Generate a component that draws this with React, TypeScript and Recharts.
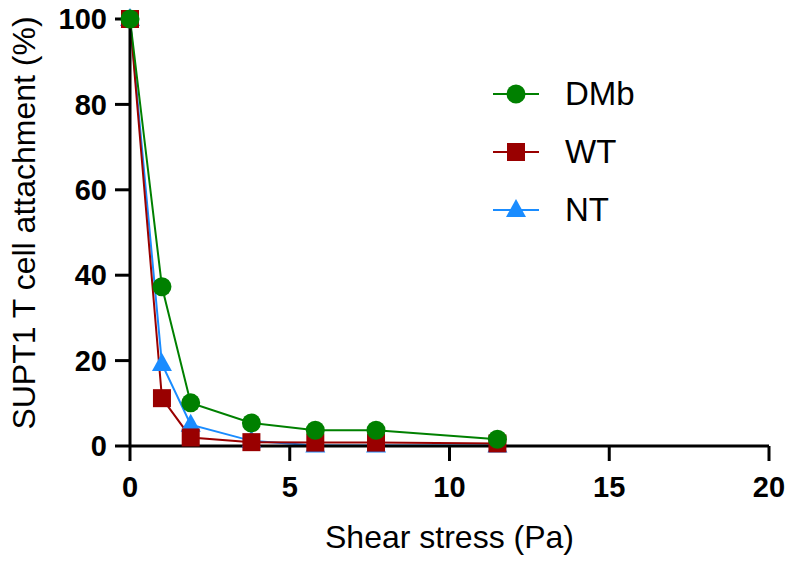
import { LineChart, Line, XAxis, YAxis, Legend } from 'recharts';

const shear = [0, 1, 1.9, 3.8, 5.8, 7.7, 11.5];
const dmb = [100, 37.3, 10.1, 5.4, 3.7, 3.7, 1.6];
const wt = [100, 11.2, 2.0, 0.9, 0.8, 0.8, 0.6];
const nt = [100, 19.2, 5.0, 1.2, 0.1, 0.1, 0.1];

const xTicks = [0, 5, 10, 15, 20];
const yTicks = [0, 20, 40, 60, 80, 100];

const series = [
  { key: 'nt', name: 'NT', color: '#1a8cff', shape: 'triangle' },
  { key: 'wt', name: 'WT', color: '#990000', shape: 'square' },
  { key: 'dmb', name: 'DMb', color: '#008000', shape: 'circle' },
];
const legendOrder = ['dmb', 'wt', 'nt'];

const data = shear.map((x, i) => ({ x, dmb: dmb[i], wt: wt[i], nt: nt[i] }));

const FONT = '"Liberation Sans", Arial, sans-serif';

function Marker({ cx, cy, shape, color }: { cx: number; cy: number; shape: string; color: string }) {
  if (cx == null || cy == null) return null;
  if (shape === 'circle') return <circle cx={cx} cy={cy} r={9.5} fill={color} />;
  if (shape === 'square') return <rect x={cx - 9} y={cy - 9} width={18} height={18} fill={color} />;
  return <polygon points={`${cx},${cy - 11} ${cx - 10},${cy + 7} ${cx + 10},${cy + 7}`} fill={color} />;
}

function LegendBox() {
  return (
    <div style={{ fontFamily: FONT }}>
      {legendOrder.map((k) => {
        const s = series.find((d) => d.key === k)!;
        return (
          <div key={k} style={{ display: 'flex', alignItems: 'center', height: 58 }}>
            <svg width={50} height={30}>
              <line x1={0} y1={15} x2={46} y2={15} stroke={s.color} strokeWidth={2} />
              <Marker cx={23} cy={15} shape={s.shape} color={s.color} />
            </svg>
            <span style={{ marginLeft: 22, fontSize: 33, color: '#000' }}>{s.name}</span>
          </div>
        );
      })}
    </div>
  );
}

function YTitle() {
  const cy = 223;
  const cx = 24;
  return (
    <text
      x={cx}
      y={cy}
      transform={`rotate(-90, ${cx}, ${cy})`}
      textAnchor="middle"
      dominantBaseline="central"
      fontSize={32}
      fontFamily={FONT}
      fill="#000"
    >
      SUPT1 T cell attachment (%)
    </text>
  );
}

export default function App() {
  return (
    <div style={{ position: 'absolute', left: 0, top: 0, background: '#fff' }}>
      <LineChart width={790} height={561} data={data} margin={{ top: 19, right: 21, left: 0, bottom: 0 }}>
        <XAxis
          dataKey="x"
          type="number"
          domain={[0, 20]}
          ticks={xTicks}
          height={115}
          axisLine={{ stroke: '#000', strokeWidth: 3 }}
          tickLine={{ stroke: '#000', strokeWidth: 3 }}
          tickSize={15}
          tickMargin={15}
          tick={{ fill: '#000', fontSize: 29, fontWeight: 700, fontFamily: FONT }}
          label={{
            value: 'Shear stress (Pa)',
            position: 'insideBottom',
            offset: 13,
            fill: '#000',
            fontSize: 32,
            fontFamily: FONT,
          }}
        />
        <YAxis
          type="number"
          domain={[0, 100]}
          ticks={yTicks}
          width={130}
          axisLine={{ stroke: '#000', strokeWidth: 3 }}
          tickLine={{ stroke: '#000', strokeWidth: 3 }}
          tickSize={15}
          tickMargin={8}
          tick={{ fill: '#000', fontSize: 29, fontWeight: 700, fontFamily: FONT }}
          label={<YTitle />}
        />
        <Legend
          layout="vertical"
          align="center"
          verticalAlign="middle"
          content={() => <LegendBox />}
          wrapperStyle={{ left: 493, top: 65, width: 200 }}
        />
        {series.map((s) => (
          <Line
            key={s.key}
            dataKey={s.key}
            name={s.name}
            type="linear"
            stroke={s.color}
            strokeWidth={2}
            isAnimationActive={false}
            dot={(p: any) => <Marker key={`${s.key}-${p.index}`} cx={p.cx} cy={p.cy} shape={s.shape} color={s.color} />}
          />
        ))}
      </LineChart>
    </div>
  );
}
